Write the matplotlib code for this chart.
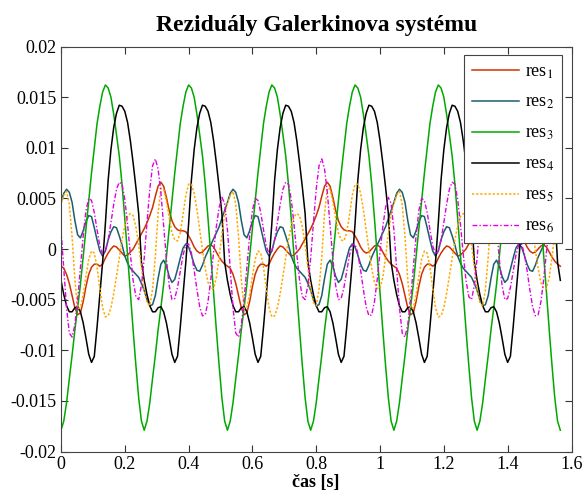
import numpy as np
import matplotlib
matplotlib.use("Agg")
import matplotlib.pyplot as plt

# ---------------- data ----------------
t_end = 1.565
n_samples = 181

res1 = [
    -0.0017, -0.0019, -0.0025, -0.0034, -0.0046, -0.0058, -0.0065, -0.0063, -0.0052, -0.0037,
    -0.0025, -0.0018, -0.0015, -0.0015, -0.0017, -0.0015, -0.0009, -0.0004, 0.0000, 0.0003,
    0.0002, -0.0001, -0.0004, -0.0007, -0.0006, -0.0003, 0.0000, 0.0005, 0.0010, 0.0015,
    0.0020, 0.0026, 0.0033, 0.0041, 0.0052, 0.0062, 0.0066, 0.0062, 0.0051, 0.0038,
    0.0028, 0.0022, 0.0019, 0.0018, 0.0018, 0.0017, 0.0013, 0.0008, 0.0002, -0.0002,
    -0.0004, -0.0003, 0.0000, 0.0003, 0.0004, 0.0002, -0.0003, -0.0008, -0.0012, -0.0015,
    -0.0017, -0.0019, -0.0025, -0.0034, -0.0046, -0.0058, -0.0065, -0.0063, -0.0052, -0.0037,
    -0.0025, -0.0018, -0.0015, -0.0015, -0.0017, -0.0015, -0.0009, -0.0004, 0.0000, 0.0003,
    0.0002, -0.0001, -0.0004, -0.0007, -0.0006, -0.0003, 0.0000, 0.0005, 0.0010, 0.0015,
    0.0020, 0.0026, 0.0033, 0.0041, 0.0052, 0.0062, 0.0066, 0.0062, 0.0051, 0.0038,
    0.0028, 0.0022, 0.0019, 0.0018, 0.0018, 0.0017, 0.0013, 0.0008, 0.0002, -0.0002,
    -0.0004, -0.0003, 0.0000, 0.0003, 0.0004, 0.0002, -0.0003, -0.0008, -0.0012, -0.0015,
    -0.0017, -0.0019, -0.0025, -0.0034, -0.0046, -0.0058, -0.0065, -0.0063, -0.0052, -0.0037,
    -0.0025, -0.0018, -0.0015, -0.0015, -0.0017, -0.0015, -0.0009, -0.0004, 0.0000, 0.0003,
    0.0002, -0.0001, -0.0004, -0.0007, -0.0006, -0.0003, 0.0000, 0.0005, 0.0010, 0.0015,
    0.0020, 0.0026, 0.0033, 0.0041, 0.0052, 0.0062, 0.0066, 0.0062, 0.0051, 0.0038,
    0.0028, 0.0022, 0.0019, 0.0018, 0.0018, 0.0017, 0.0013, 0.0008, 0.0002, -0.0002,
    -0.0004, -0.0003, 0.0000, 0.0003, 0.0004, 0.0002, -0.0003, -0.0008, -0.0012, -0.0015,
    -0.0017,
]

res2 = [
    0.0046, 0.0055, 0.0059, 0.0056, 0.0046, 0.0028, 0.0014, 0.0011, 0.0018, 0.0027,
    0.0033, 0.0032, 0.0021, 0.0009, -0.0002, -0.0007, -0.0002, 0.0009, 0.0017, 0.0022,
    0.0021, 0.0013, 0.0004, -0.0007, -0.0014, -0.0019, -0.0022, -0.0025, -0.0028, -0.0034,
    -0.0041, -0.0050, -0.0056, -0.0055, -0.0046, -0.0029, -0.0015, -0.0011, -0.0017, -0.0027,
    -0.0033, -0.0030, -0.0020, -0.0009, 0.0001, 0.0005, 0.0002, -0.0006, -0.0015, -0.0021,
    -0.0022, -0.0016, -0.0008, -0.0002, 0.0004, 0.0010, 0.0016, 0.0022, 0.0030, 0.0038,
    0.0046, 0.0055, 0.0059, 0.0056, 0.0046, 0.0028, 0.0014, 0.0011, 0.0018, 0.0027,
    0.0033, 0.0032, 0.0021, 0.0009, -0.0002, -0.0007, -0.0002, 0.0009, 0.0017, 0.0022,
    0.0021, 0.0013, 0.0004, -0.0007, -0.0014, -0.0019, -0.0022, -0.0025, -0.0028, -0.0034,
    -0.0041, -0.0050, -0.0056, -0.0055, -0.0046, -0.0029, -0.0015, -0.0011, -0.0017, -0.0027,
    -0.0033, -0.0030, -0.0020, -0.0009, 0.0001, 0.0005, 0.0002, -0.0006, -0.0015, -0.0021,
    -0.0022, -0.0016, -0.0008, -0.0002, 0.0004, 0.0010, 0.0016, 0.0022, 0.0030, 0.0038,
    0.0046, 0.0055, 0.0059, 0.0056, 0.0046, 0.0028, 0.0014, 0.0011, 0.0018, 0.0027,
    0.0033, 0.0032, 0.0021, 0.0009, -0.0002, -0.0007, -0.0002, 0.0009, 0.0017, 0.0022,
    0.0021, 0.0013, 0.0004, -0.0007, -0.0014, -0.0019, -0.0022, -0.0025, -0.0028, -0.0034,
    -0.0041, -0.0050, -0.0056, -0.0055, -0.0046, -0.0029, -0.0015, -0.0011, -0.0017, -0.0027,
    -0.0033, -0.0030, -0.0020, -0.0009, 0.0001, 0.0005, 0.0002, -0.0006, -0.0015, -0.0021,
    -0.0022, -0.0016, -0.0008, -0.0002, 0.0004, 0.0010, 0.0016, 0.0022, 0.0030, 0.0038,
    0.0046,
]

res3 = [
    -0.0179, -0.0170, -0.0152, -0.0128, -0.0105, -0.0080, -0.0058, -0.0035, -0.0008, 0.0020,
    0.0048, 0.0075, 0.0100, 0.0124, 0.0141, 0.0155, 0.0162, 0.0159, 0.0150, 0.0133,
    0.0113, 0.0092, 0.0064, 0.0030, -0.0006, -0.0043, -0.0080, -0.0115, -0.0147, -0.0170,
    -0.0179, -0.0170, -0.0152, -0.0128, -0.0105, -0.0080, -0.0058, -0.0035, -0.0008, 0.0020,
    0.0048, 0.0075, 0.0100, 0.0124, 0.0141, 0.0155, 0.0162, 0.0159, 0.0150, 0.0133,
    0.0113, 0.0092, 0.0064, 0.0030, -0.0006, -0.0043, -0.0080, -0.0115, -0.0147, -0.0170,
    -0.0179, -0.0170, -0.0152, -0.0128, -0.0105, -0.0080, -0.0058, -0.0035, -0.0008, 0.0020,
    0.0048, 0.0075, 0.0100, 0.0124, 0.0141, 0.0155, 0.0162, 0.0159, 0.0150, 0.0133,
    0.0113, 0.0092, 0.0064, 0.0030, -0.0006, -0.0043, -0.0080, -0.0115, -0.0147, -0.0170,
    -0.0179, -0.0170, -0.0152, -0.0128, -0.0105, -0.0080, -0.0058, -0.0035, -0.0008, 0.0020,
    0.0048, 0.0075, 0.0100, 0.0124, 0.0141, 0.0155, 0.0162, 0.0159, 0.0150, 0.0133,
    0.0113, 0.0092, 0.0064, 0.0030, -0.0006, -0.0043, -0.0080, -0.0115, -0.0147, -0.0170,
    -0.0179, -0.0170, -0.0152, -0.0128, -0.0105, -0.0080, -0.0058, -0.0035, -0.0008, 0.0020,
    0.0048, 0.0075, 0.0100, 0.0124, 0.0141, 0.0155, 0.0162, 0.0159, 0.0150, 0.0133,
    0.0113, 0.0092, 0.0064, 0.0030, -0.0006, -0.0043, -0.0080, -0.0115, -0.0147, -0.0170,
    -0.0179, -0.0170, -0.0152, -0.0128, -0.0105, -0.0080, -0.0058, -0.0035, -0.0008, 0.0020,
    0.0048, 0.0075, 0.0100, 0.0124, 0.0141, 0.0155, 0.0162, 0.0159, 0.0150, 0.0133,
    0.0113, 0.0092, 0.0064, 0.0030, -0.0006, -0.0043, -0.0080, -0.0115, -0.0147, -0.0170,
    -0.0179,
]

res4 = [
    -0.0031, -0.0045, -0.0056, -0.0062, -0.0062, -0.0058, -0.0057, -0.0062, -0.0073, -0.0088,
    -0.0104, -0.0112, -0.0106, -0.0077, -0.0045, -0.0013, 0.0025, 0.0068, 0.0098, 0.0120,
    0.0134, 0.0142, 0.0141, 0.0136, 0.0125, 0.0107, 0.0085, 0.0061, 0.0035, -0.0013,
    -0.0031, -0.0045, -0.0056, -0.0062, -0.0062, -0.0058, -0.0057, -0.0062, -0.0073, -0.0088,
    -0.0104, -0.0112, -0.0106, -0.0077, -0.0045, -0.0013, 0.0025, 0.0068, 0.0098, 0.0120,
    0.0134, 0.0142, 0.0141, 0.0136, 0.0125, 0.0107, 0.0085, 0.0061, 0.0035, -0.0013,
    -0.0031, -0.0045, -0.0056, -0.0062, -0.0062, -0.0058, -0.0057, -0.0062, -0.0073, -0.0088,
    -0.0104, -0.0112, -0.0106, -0.0077, -0.0045, -0.0013, 0.0025, 0.0068, 0.0098, 0.0120,
    0.0134, 0.0142, 0.0141, 0.0136, 0.0125, 0.0107, 0.0085, 0.0061, 0.0035, -0.0013,
    -0.0031, -0.0045, -0.0056, -0.0062, -0.0062, -0.0058, -0.0057, -0.0062, -0.0073, -0.0088,
    -0.0104, -0.0112, -0.0106, -0.0077, -0.0045, -0.0013, 0.0025, 0.0068, 0.0098, 0.0120,
    0.0134, 0.0142, 0.0141, 0.0136, 0.0125, 0.0107, 0.0085, 0.0061, 0.0035, -0.0013,
    -0.0031, -0.0045, -0.0056, -0.0062, -0.0062, -0.0058, -0.0057, -0.0062, -0.0073, -0.0088,
    -0.0104, -0.0112, -0.0106, -0.0077, -0.0045, -0.0013, 0.0025, 0.0068, 0.0098, 0.0120,
    0.0134, 0.0142, 0.0141, 0.0136, 0.0125, 0.0107, 0.0085, 0.0061, 0.0035, -0.0013,
    -0.0031, -0.0045, -0.0056, -0.0062, -0.0062, -0.0058, -0.0057, -0.0062, -0.0073, -0.0088,
    -0.0104, -0.0112, -0.0106, -0.0077, -0.0045, -0.0013, 0.0025, 0.0068, 0.0098, 0.0120,
    0.0134, 0.0142, 0.0141, 0.0136, 0.0125, 0.0107, 0.0085, 0.0061, 0.0035, -0.0013,
    -0.0031,
]

res5 = [
    0.0045, 0.0053, 0.0057, 0.0044, 0.0012, -0.0030, -0.0059, -0.0058, -0.0045, -0.0027,
    -0.0010, -0.0002, -0.0004, -0.0018, -0.0039, -0.0058, -0.0067, -0.0066, -0.0058, -0.0044,
    -0.0027, -0.0009, 0.0009, 0.0023, 0.0032, 0.0035, 0.0033, 0.0022, 0.0004, -0.0018,
    -0.0040, -0.0053, -0.0056, -0.0040, -0.0008, 0.0035, 0.0060, 0.0059, 0.0047, 0.0031,
    0.0016, 0.0009, 0.0008, 0.0016, 0.0034, 0.0053, 0.0064, 0.0064, 0.0055, 0.0039,
    0.0019, -0.0001, -0.0019, -0.0033, -0.0039, -0.0039, -0.0028, -0.0008, 0.0015, 0.0034,
    0.0045, 0.0053, 0.0057, 0.0044, 0.0012, -0.0030, -0.0059, -0.0058, -0.0045, -0.0027,
    -0.0010, -0.0002, -0.0004, -0.0018, -0.0039, -0.0058, -0.0067, -0.0066, -0.0058, -0.0044,
    -0.0027, -0.0009, 0.0009, 0.0023, 0.0032, 0.0035, 0.0033, 0.0022, 0.0004, -0.0018,
    -0.0040, -0.0053, -0.0056, -0.0040, -0.0008, 0.0035, 0.0060, 0.0059, 0.0047, 0.0031,
    0.0016, 0.0009, 0.0008, 0.0016, 0.0034, 0.0053, 0.0064, 0.0064, 0.0055, 0.0039,
    0.0019, -0.0001, -0.0019, -0.0033, -0.0039, -0.0039, -0.0028, -0.0008, 0.0015, 0.0034,
    0.0045, 0.0053, 0.0057, 0.0044, 0.0012, -0.0030, -0.0059, -0.0058, -0.0045, -0.0027,
    -0.0010, -0.0002, -0.0004, -0.0018, -0.0039, -0.0058, -0.0067, -0.0066, -0.0058, -0.0044,
    -0.0027, -0.0009, 0.0009, 0.0023, 0.0032, 0.0035, 0.0033, 0.0022, 0.0004, -0.0018,
    -0.0040, -0.0053, -0.0056, -0.0040, -0.0008, 0.0035, 0.0060, 0.0059, 0.0047, 0.0031,
    0.0016, 0.0009, 0.0008, 0.0016, 0.0034, 0.0053, 0.0064, 0.0064, 0.0055, 0.0039,
    0.0019, -0.0001, -0.0019, -0.0033, -0.0039, -0.0039, -0.0028, -0.0008, 0.0015, 0.0034,
    0.0045,
]

res6 = [
    0.0019, -0.0019, -0.0058, -0.0083, -0.0087, -0.0075, -0.0050, -0.0019, 0.0013, 0.0038,
    0.0050, 0.0048, 0.0036, 0.0019, 0.0003, -0.0005, -0.0002, 0.0009, 0.0026, 0.0044,
    0.0059, 0.0066, 0.0064, 0.0049, 0.0024, -0.0005, -0.0031, -0.0047, -0.0050, -0.0036,
    -0.0009, 0.0026, 0.0059, 0.0082, 0.0089, 0.0079, 0.0056, 0.0023, -0.0010, -0.0036,
    -0.0050, -0.0049, -0.0038, -0.0022, -0.0006, 0.0004, 0.0005, -0.0004, -0.0021, -0.0040,
    -0.0057, -0.0066, -0.0065, -0.0052, -0.0030, -0.0003, 0.0022, 0.0041, 0.0051, 0.0045,
    0.0019, -0.0019, -0.0058, -0.0083, -0.0087, -0.0075, -0.0050, -0.0019, 0.0013, 0.0038,
    0.0050, 0.0048, 0.0036, 0.0019, 0.0003, -0.0005, -0.0002, 0.0009, 0.0026, 0.0044,
    0.0059, 0.0066, 0.0064, 0.0049, 0.0024, -0.0005, -0.0031, -0.0047, -0.0050, -0.0036,
    -0.0009, 0.0026, 0.0059, 0.0082, 0.0089, 0.0079, 0.0056, 0.0023, -0.0010, -0.0036,
    -0.0050, -0.0049, -0.0038, -0.0022, -0.0006, 0.0004, 0.0005, -0.0004, -0.0021, -0.0040,
    -0.0057, -0.0066, -0.0065, -0.0052, -0.0030, -0.0003, 0.0022, 0.0041, 0.0051, 0.0045,
    0.0019, -0.0019, -0.0058, -0.0083, -0.0087, -0.0075, -0.0050, -0.0019, 0.0013, 0.0038,
    0.0050, 0.0048, 0.0036, 0.0019, 0.0003, -0.0005, -0.0002, 0.0009, 0.0026, 0.0044,
    0.0059, 0.0066, 0.0064, 0.0049, 0.0024, -0.0005, -0.0031, -0.0047, -0.0050, -0.0036,
    -0.0009, 0.0026, 0.0059, 0.0082, 0.0089, 0.0079, 0.0056, 0.0023, -0.0010, -0.0036,
    -0.0050, -0.0049, -0.0038, -0.0022, -0.0006, 0.0004, 0.0005, -0.0004, -0.0021, -0.0040,
    -0.0057, -0.0066, -0.0065, -0.0052, -0.0030, -0.0003, 0.0022, 0.0041, 0.0051, 0.0045,
    0.0019,
]

series_labels = ['res$_1$', 'res$_2$', 'res$_3$', 'res$_4$', 'res$_5$', 'res$_6$']
x_ticks = [0, 0.2, 0.4, 0.6, 0.8, 1.0, 1.2, 1.4, 1.6]
x_ticklabels = ['0', '0.2', '0.4', '0.6', '0.8', '1', '1.2', '1.4', '1.6']
y_ticks = [-0.02, -0.015, -0.01, -0.005, 0, 0.005, 0.01, 0.015, 0.02]
y_ticklabels = ['-0.02', '-0.015', '-0.01', '-0.005', '0', '0.005', '0.01', '0.015', '0.02']

# ---------------- figure ----------------
plt.rcParams['font.family'] = ['Liberation Serif', 'DejaVu Serif']
plt.rcParams['mathtext.fontset'] = 'stix'
plt.rcParams['axes.unicode_minus'] = False

t = np.linspace(0, t_end, n_samples)

fig = plt.figure(figsize=(5.85, 4.96), dpi=100)
ax = fig.add_axes([61 / 585, 44.5 / 496, 510.5 / 585, 405 / 496])

styles = [
    dict(color='#CC3300', lw=1.1, ls='-'),
    dict(color='#1B5E6E', lw=1.1, ls='-'),
    dict(color='#00A800', lw=1.1, ls='-'),
    dict(color='#000000', lw=1.1, ls='-'),
    dict(color='#FFAA00', lw=1.1, ls=(0, (1.5, 1.2))),
    dict(color='#E000E0', lw=1.0, ls=(0, (3.5, 1.5, 1, 1.5))),
]
for ys, lab, st in zip([res1, res2, res3, res4, res5, res6], series_labels, styles):
    ax.plot(t, ys, label=lab, **st)

ax.set_xlim(0, 1.6)
ax.set_ylim(-0.02, 0.02)
ax.set_xticks(x_ticks)
ax.set_xticklabels(x_ticklabels)
ax.set_yticks(y_ticks)
ax.set_yticklabels(y_ticklabels)
ax.tick_params(direction='in', top=True, right=True, length=5, width=0.8,
               labelsize=13, color='#333333')
ax.tick_params(axis='x', pad=3)
for sp in ax.spines.values():
    sp.set_color('#444444')
    sp.set_linewidth(0.8)

ax.set_title('Reziduály Galerkinova systému', fontsize=17, fontweight='bold', pad=11)
ax.set_xlabel('čas [s]', fontsize=13, fontweight='bold', labelpad=1)

leg = ax.legend(loc='upper right', bbox_to_anchor=((562 - 61) / 510.5, (451.5 - 55) / 405),
                borderaxespad=0, fancybox=False, edgecolor='#444444', framealpha=1,
                fontsize=13, handlelength=2.6, handletextpad=0.3, labelspacing=0.75,
                borderpad=0.45)
leg.get_frame().set_linewidth(0.8)

fig.savefig('out.png', dpi=100)
